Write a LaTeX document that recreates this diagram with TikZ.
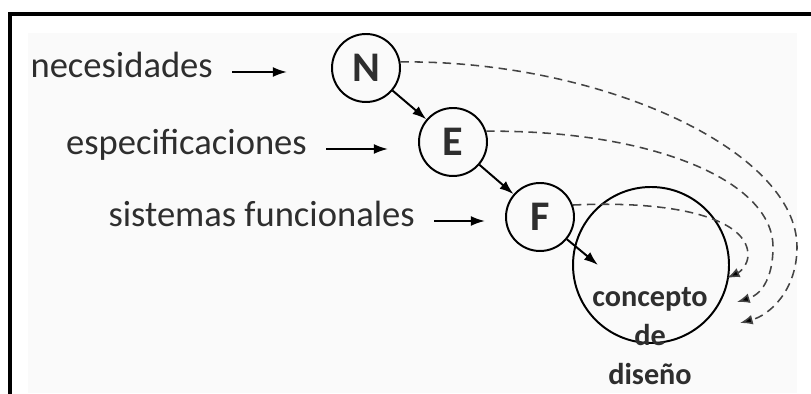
\documentclass[tikz,border=0pt]{standalone}
\usepackage{fontspec}
\setmainfont{Carlito}
\usepackage{tikz}
\usetikzlibrary{positioning,arrows.meta}
\definecolor{tinta}{HTML}{2E2E2E}
\definecolor{trazo}{HTML}{444444}
\definecolor{fondo}{HTML}{FAFAFA}
\tikzset{
  etp_n/.style = {circle, draw=black, line width=1.4pt, minimum size=1.7cm,
    inner sep=0pt, font=\fontsize{30}{30}\selectfont\bfseries, text=tinta},
  lbl_x/.style = {anchor=east, inner xsep=0.475cm, inner ysep=0pt,
    text depth=0pt, text height=7.5pt, text=tinta,
    font=\fontsize{26}{30}\selectfont},
  con_c/.style = {circle, draw=black, line width=1.4pt, minimum size=3.9cm},% concepto, circulo
  con_t/.style = {align=center, inner sep=0pt, text=tinta,
    font=\fontsize{21.5}{27.7}\selectfont\bfseries},
  flecha/.style = {-{Latex[length=10pt,width=7pt]}, line width=1.4pt, black},
  vuelta/.style = {-{Latex[length=9pt,width=7pt,fill=black]}, line width=1.1pt,
    trazo, dash pattern=on 6pt off 4pt}
}

\begin{document}
\begin{tikzpicture}
\useasboundingbox (0,0) rectangle (20.275,9.85);
\fill[fondo] (0.7,0.025) rectangle (19.925,9.025);
\draw[line width=2.8pt] (20.275,9.49) -- (0.25,9.49) -- (0.25,0);
% etapas
\node (N) [etp_n] at (9.15,8.15) {N};
\node (E) [etp_n] at (11.325,6.3) {E};
\node (F) [etp_n] at (13.5,4.425) {F};
\node (con) [con_c] at (16.275,3.225) {};
\node (txt) [con_t] at (16.25,1.45) {concepto\\de\\diseño};
% entradas
\node (lnec) [lbl_x] at (5.8,8.05) {necesidades};
\node (lesp) [lbl_x] at (8.15,6.125) {especificaciones};
\node (lsis) [lbl_x] at (10.85,4.325) {sistemas funcionales};
\coordinate (anec) at (7.175,8.05);
\coordinate (aesp) at (9.7,6.125);
\coordinate (asis) at (12.125,4.325);
\draw[flecha] (lnec) -- (anec);
\draw[flecha] (lesp) -- (aesp);
\draw[flecha] (lsis) -- (asis);
% cadena
\coordinate (fin) at (14.95,3.225);
\draw[flecha] (N) -- (E);
\draw[flecha] (E) -- (F);
\draw[flecha] (F) -- (fin);
% retornos
\coordinate (d1) at (18.5,1.775);
\coordinate (d2) at (18.425,2.3);
\coordinate (d3) at (18.175,2.9);
\draw[vuelta] (N.10) .. controls (15.0,8.35) and (19.925,6.1) .. (19.925,3.675)
  .. controls (19.925,2.6) and (19.25,1.975) .. (d1);
\draw[vuelta] (E.18) .. controls (16.25,6.6) and (19.325,5.35) .. (19.325,3.675)
  .. controls (19.325,2.85) and (19.0,2.475) .. (d2);
\draw[vuelta] (F.20) .. controls (17.0,4.85) and (18.7,4.35) .. (18.7,3.475)
  .. controls (18.7,3.225) and (18.5,3.05) .. (d3);
\end{tikzpicture}
\end{document}
